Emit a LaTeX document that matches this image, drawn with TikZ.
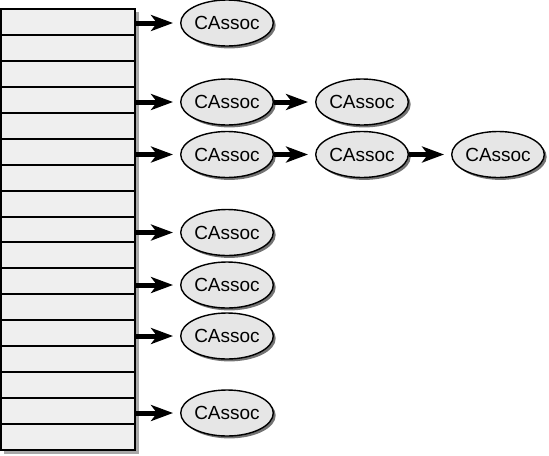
\documentclass[tikz,border=0pt]{standalone}
\usepackage{fontspec}
\setmainfont{Liberation Sans}
\usetikzlibrary{shapes.geometric,arrows.meta,shadows}

\definecolor{cellfill}{HTML}{EFEFEF}
\definecolor{assocfill}{HTML}{E6E6E6}
\definecolor{boxshadow}{HTML}{A8A8A8}

\tikzset{
  cell/.style={draw, line width=1pt, fill=cellfill, minimum width=67pt, minimum height=12.97pt, inner sep=0pt},
  assoc/.style={ellipse, draw, line width=0.7pt, fill=assocfill, minimum width=45pt, minimum height=23pt, inner sep=0pt,
    font=\fontsize{9.5}{11}\selectfont,
    drop shadow={shadow xshift=1.2pt, shadow yshift=-1.2pt, fill=black!55, opacity=1}},
  link/.style={-{Stealth[length=11pt, width=8pt, inset=3pt]}, line width=2.5pt, shorten >=3.5pt}
}

\begin{document}
\begin{tikzpicture}[x=0.5pt, y=-0.5pt]
    \useasboundingbox (0,0) rectangle (549,455);

    % Draw the table of cells
    \fill[boxshadow] (4,12) rectangle (138.5,453.5);
    \foreach \i in {0,...,16}
      \node[cell] (c\i) at (68, {9+25.94*(\i+0.5)}) {};

    % Association nodes
    \node[assoc] (a0) at (227, 23) {CAssoc};
    \node[assoc] (a3) at (227, 102) {CAssoc};
    \node[assoc] (b3) at (362, 102) {CAssoc};
    \node[assoc] (a5) at (227, 154.5) {CAssoc};
    \node[assoc] (b5) at (362, 154.5) {CAssoc};
    \node[assoc] (d5) at (498, 154.5) {CAssoc};
    \node[assoc] (a8) at (227, 232.5) {CAssoc};
    \node[assoc] (a10) at (227, 285) {CAssoc};
    \node[assoc] (a12) at (227, 336) {CAssoc};
    \node[assoc] (a15) at (227, 413) {CAssoc};

    % Arrows from the cells
    \draw[link] (a0.west -| c0.east) -- (a0.west);
    \draw[link] (a3.west -| c3.east) -- (a3.west);
    \draw[link] (a5.west -| c5.east) -- (a5.west);
    \draw[link] (a8.west -| c8.east) -- (a8.west);
    \draw[link] (a10.west -| c10.east) -- (a10.west);
    \draw[link] (a12.west -| c12.east) -- (a12.west);
    \draw[link] (a15.west -| c15.east) -- (a15.west);

    % Arrows along the chains
    \draw[link] (a3.east) -- (b3.west);
    \draw[link] (a5.east) -- (b5.west);
    \draw[link] (b5.east) -- (d5.west);
\end{tikzpicture}
\end{document}
